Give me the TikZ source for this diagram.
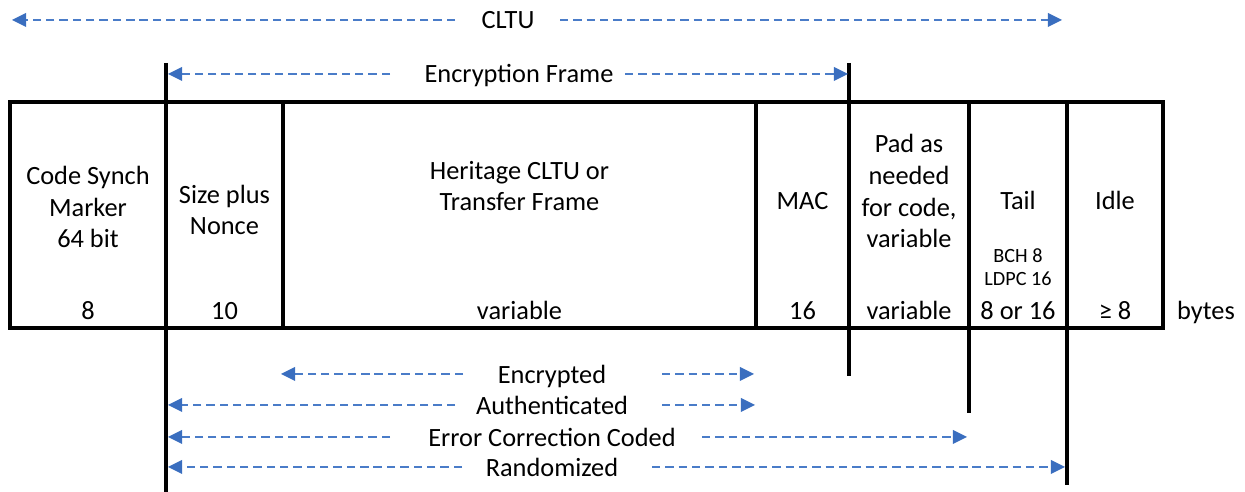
\documentclass[tikz,border=0pt]{standalone}
\usepackage{fontspec}
\setmainfont{Carlito}
\usetikzlibrary{arrows.meta,fit}
\definecolor{dashblue}{HTML}{4A7CC8}
\definecolor{tipblue}{HTML}{3A6EBF}
\tikzset{
  frame/.style={line width=1.8pt, black},
  cell/.style={draw, line width=1.8pt, inner sep=0pt},
  dimarrow/.style={draw=dashblue, line width=0.85pt, dash pattern=on 4.8pt off 2.8pt,
    -{Triangle[length=8pt,width=8pt,color=tipblue,line width=0pt]}},
  lbl/.style={font=\fontsize{15}{18.2}\selectfont, anchor=base, inner sep=0pt, align=center},
  smalllbl/.style={font=\fontsize{11.5}{13.6}\selectfont, anchor=base, inner sep=0pt, align=center}
}
\begin{document}
\begin{tikzpicture}[x=0.02cm, y=-0.02cm]
\useasboundingbox (0,0) rectangle (1245,492);
% cells
\node[cell, fit={(10,102) (166,328)}] (csm) {};
\node[cell, fit={(166,102) (283,328)}] (snc) {};
\node[cell, fit={(283,102) (756,328)}] (her) {};
\node[cell, fit={(756,102) (849,328)}] (mac) {};
\node[cell, fit={(849,102) (969,328)}] (pad) {};
\node[cell, fit={(969,102) (1067,328)}] (tail) {};
\node[cell, fit={(1067,102) (1163,328)}] (idle) {};
% extension lines
\coordinate (efTopL) at (166,63);
\coordinate (efBotL) at (166,492);
\coordinate (efTopR) at (849,63);
\coordinate (efBotR) at (849,376);
\coordinate (eccTop) at (969,328);
\coordinate (eccBot) at (969,413);
\coordinate (rndTop) at (1067,328);
\coordinate (rndBot) at (1067,485);
\draw[frame] (efTopL) -- (efBotL);
\draw[frame] (efTopR) -- (efBotR);
\draw[frame] (eccTop) -- (eccBot);
\draw[frame] (rndTop) -- (rndBot);
% cell texts (anchor base = last line baseline)
\node[lbl] (t1) at (88,248) {Code Synch\\Marker\\64 bit};
\node[lbl] (t2) at (224.5,235) {Size plus\\Nonce};
\node[lbl] (t3) at (519.5,211) {Heritage CLTU or\\Transfer Frame};
\node[lbl] (t4) at (802.5,210) {MAC};
\node[lbl] (t5) at (909,248) {Pad as\\needed\\for code,\\variable};
\node[lbl] (t6) at (1018,210) {Tail};
\node[smalllbl] (t6b) at (1018,286) {BCH 8\\LDPC 16};
\node[lbl] (t7) at (1115,210) {Idle};
% sizes
\node[lbl] (s1) at (88,320) {8};
\node[lbl] (s2) at (224.5,320) {10};
\node[lbl] (s3) at (519.5,320) {variable};
\node[lbl] (s4) at (802.5,320) {16};
\node[lbl] (s5) at (909,320) {variable};
\node[lbl] (s6) at (1018,320) {8 or 16};
\node[lbl] (s7) at (1115,320) {≥ 8};
\node[lbl] (s8) at (1206,320) {bytes};
% CLTU
\node[lbl] (cltu) at (508,29) {CLTU};
\coordinate (cltuA) at (455,20); \coordinate (cltuAt) at (12,20);
\coordinate (cltuB) at (560,20); \coordinate (cltuBt) at (1062,20);
\draw[dimarrow] (cltuA) -- (cltuAt);
\draw[dimarrow] (cltuB) -- (cltuBt);
% Encryption frame
\node[lbl] (ef) at (519,83) {Encryption Frame};
\coordinate (efA) at (390,74); \coordinate (efAt) at (168,74);
\coordinate (efB) at (625,74); \coordinate (efBt) at (848,74);
\draw[dimarrow] (efA) -- (efAt);
\draw[dimarrow] (efB) -- (efBt);
% Encrypted
\node[lbl] (enc) at (552,384) {Encrypted};
\coordinate (encA) at (463,374); \coordinate (encAt) at (281,374);
\coordinate (encB) at (662,374); \coordinate (encBt) at (754,374);
\draw[dimarrow] (encA) -- (encAt);
\draw[dimarrow] (encB) -- (encBt);
% Authenticated
\node[lbl] (aut) at (552,415) {Authenticated};
\coordinate (autA) at (455,405); \coordinate (autAt) at (168,405);
\coordinate (autB) at (662,405); \coordinate (autBt) at (755,405);
\draw[dimarrow] (autA) -- (autAt);
\draw[dimarrow] (autB) -- (autBt);
% Error Correction Coded
\node[lbl] (ecc) at (552,447) {Error Correction Coded};
\coordinate (eccA) at (390,437); \coordinate (eccAt) at (168,437);
\coordinate (eccB) at (702,437); \coordinate (eccBt) at (967,437);
\draw[dimarrow] (eccA) -- (eccAt);
\draw[dimarrow] (eccB) -- (eccBt);
% Randomized
\node[lbl] (rnd) at (552,477) {Randomized};
\coordinate (rndA) at (462,467); \coordinate (rndAt) at (168,467);
\coordinate (rndB) at (652,467); \coordinate (rndBt) at (1065,467);
\draw[dimarrow] (rndA) -- (rndAt);
\draw[dimarrow] (rndB) -- (rndBt);
\end{tikzpicture}
\end{document}
